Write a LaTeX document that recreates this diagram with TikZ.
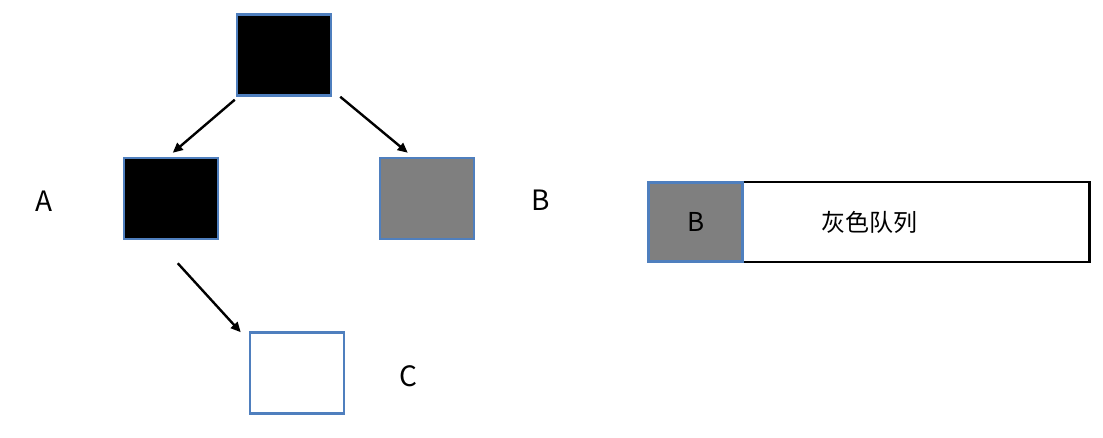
\documentclass[tikz,border=0pt]{standalone}
\usepackage{fontspec}
\setmainfont{Noto Sans CJK SC}
\newfontfamily\cjk{Noto Sans CJK SC}
\usetikzlibrary{arrows.meta}
\definecolor{bdr}{HTML}{4F7FBE}
\definecolor{gfill}{HTML}{7F7F7F}
\begin{document}
\begin{tikzpicture}[x=1pt,y=-1pt,
  box/.style={draw=bdr,line width=2.5pt,minimum width=94pt,minimum height=81pt,inner sep=0pt},
  arr/.style={draw=black,line width=2.4pt,-{Triangle[length=10pt,width=9pt]}},
  lbl/.style={font=\fontsize{28}{30}\selectfont,inner sep=0pt}]
\useasboundingbox (0,0) rectangle (1103,438);
\node[box,fill=black] (top) at (284,55) {};
\node[box,fill=black] (A) at (171,198.5) {};
\node[box,fill=gfill] (B) at (427,198.5) {};
\node[box,fill=white] (C) at (297,373) {};
\node[lbl] (la) at (44,201) {A};
\node[lbl] (lb) at (541,200) {B};
\node[lbl] (lc) at (408,376) {C};
\node[draw=black,line width=2.5pt,minimum width=441pt,minimum height=80pt,inner sep=0pt] (q) at (869,222) {};
\node[box,fill=gfill,minimum width=94pt,minimum height=79pt] (qb) at (695.5,222) {};
\node[font=\fontsize{26}{28}\selectfont,inner sep=0pt] (qbl) at (696,222) {B};
\node[font=\cjk\fontsize{24}{26}\selectfont,inner sep=0pt] (qt) at (869,222) {灰色队列};
\draw[arr] ([shift={(-1,3)}]top.south west) -- ([shift={(50,-4)}]A.north west);
\draw[arr] ([shift={(8,0)}]top.south east) -- ([shift={(29,-4)}]B.north west);
\draw[arr] ([shift={(55,23)}]A.south west) -- ([shift={(-8,1)}]C.north west);
\end{tikzpicture}
\end{document}
